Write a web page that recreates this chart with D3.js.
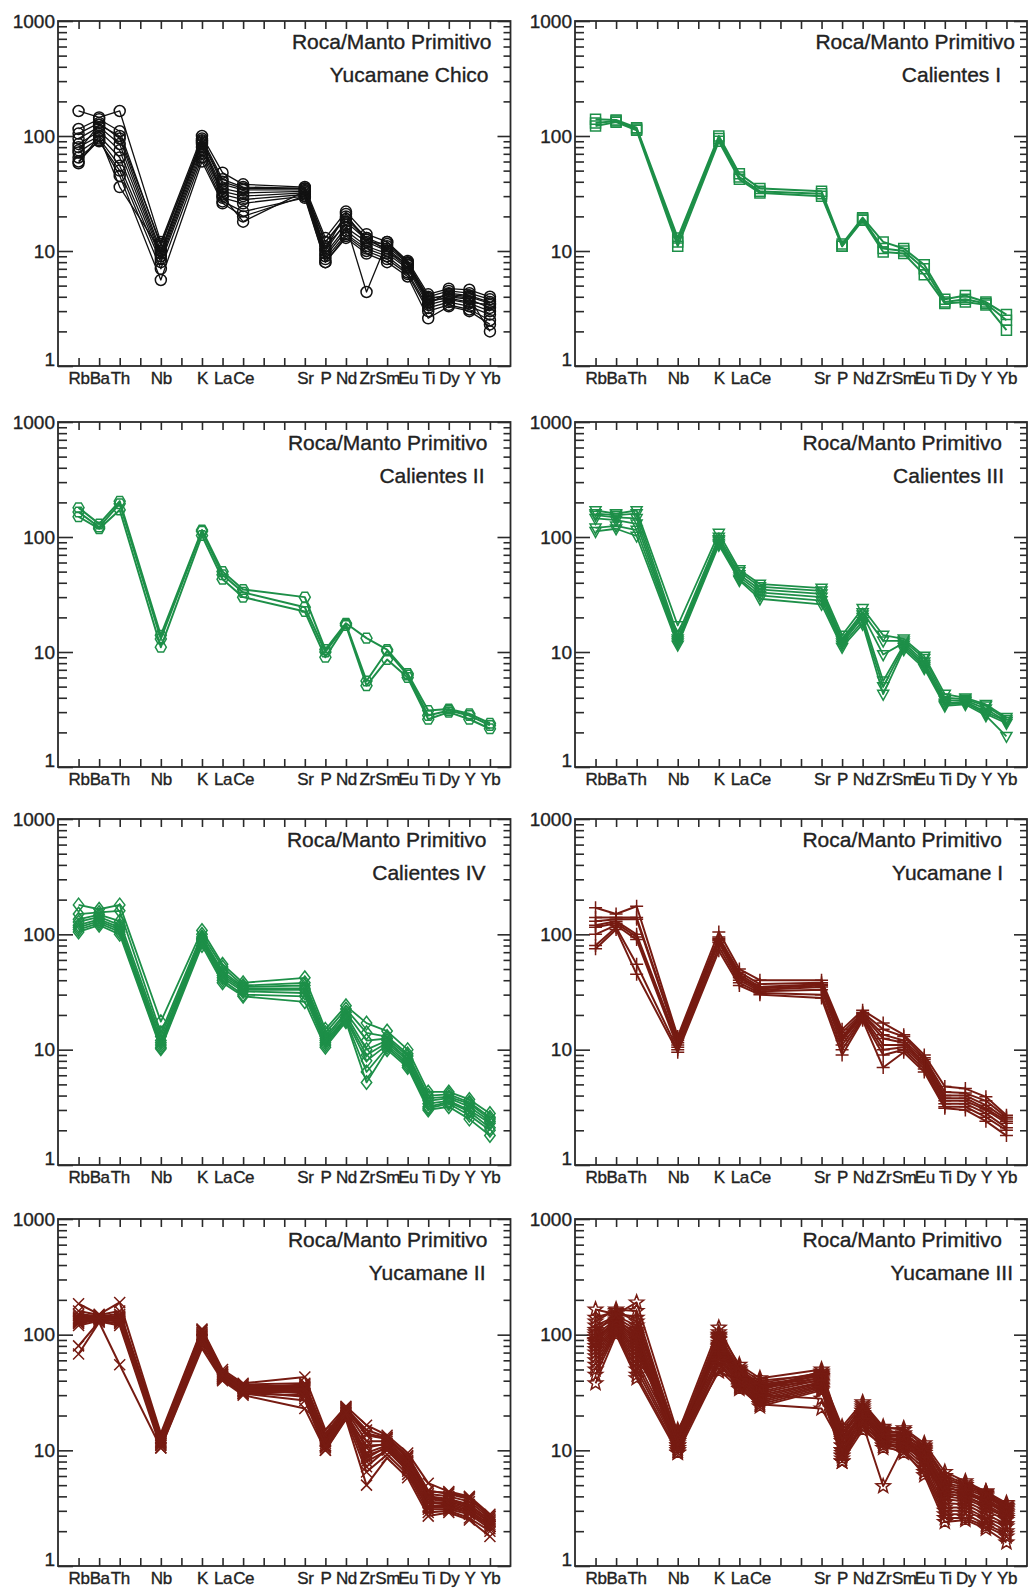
<!DOCTYPE html>
<html>
<head>
<meta charset="utf-8">
<script src="https://cdn.jsdelivr.net/npm/d3@7"></script>
<style>
  body { margin: 0; background: #fff; }
  svg { display: block; font-family: "Liberation Sans", Arial, Helvetica, sans-serif; }
  .frame { fill: none; stroke: #2a2a2a; stroke-width: 1.8; }
  .tick line { stroke: #2a2a2a; stroke-width: 1.6; }
  .domain { display: none; }
  .tick text { fill: #222; stroke: #222; stroke-width: 0.35; }
  .xlab .tick text { letter-spacing: -0.4px; }
  .title { fill: #222; stroke: #222; stroke-width: 0.35; font-size: 21px; text-anchor: end; }
</style>
</head>
<body>
<svg id="chart" width="1030" height="1590"></svg>
<script>
// element order and the slot each one takes on the 21-slot x axis
const elements = ["Rb", "Ba", "Th", "Nb", "K", "La", "Ce", "Sr", "P", "Nd", "Zr", "Sm", "Eu", "Ti", "Dy", "Y", "Yb"];
const elementSlots = [0, 1, 2, 4, 6, 7, 8, 11, 12, 13, 14, 15, 16, 17, 18, 19, 20];
const yTickLabels = [1, 10, 100, 1000];
const yLabel = "Roca/Manto Primitivo";

// rock / primitive mantle, one row per sample, columns follow `elements`
const yucamaneChico = [
  [165, 145, 165, 12, 100, 48, 38, 36, 13, 22, 14, 12, 8.2, 4.2, 4.7, 4.6, 4.0],
  [115, 140, 110, 11, 95, 42, 36, 35, 12, 20, 13, 11, 7.8, 4.0, 4.5, 4.3, 3.8],
  [105, 130, 95, 10, 90, 38, 34, 34, 10, 18, 12.5, 10.5, 7.5, 3.8, 4.2, 4.0, 3.5],
  [95, 120, 85, 9.5, 85, 35, 32, 33, 9.5, 16, 12, 10, 7.2, 3.6, 4.0, 3.8, 3.2],
  [85, 110, 75, 9, 80, 33, 30, 32, 9, 15, 11, 9.5, 7.0, 3.4, 3.8, 3.5, 3.0],
  [80, 100, 65, 8.5, 75, 31, 28, 31, 8.5, 14, 10.5, 9, 6.5, 3.2, 3.6, 3.3, 2.8],
  [72, 95, 55, 8, 70, 29, 26, 30, 8, 13.5, 10, 8.5, 6.3, 3.0, 3.4, 3.1, 2.5],
  [65, 90, 50, 7, 65, 27, 22, 29, 8, 13, 9.5, 8, 6.0, 2.6, 3.3, 3.0, 2.3],
  [60, 92, 45, 5.6, 60, 26, 20, 30, 11, 17, 4.4, 12, 8, 3.9, 4.1, 3.9, 2.0],
  [58, 100, 36, 10, 88, 30, 18, 33, 12, 19, 13, 10, 7.6, 3.7, 3.9, 3.6, 3.4],
  [75, 125, 100, 11.5, 92, 40, 35, 35, 10.5, 21, 12, 11.5, 7.9, 3.5, 4.3, 4.1, 3.6]
];
const calientesI = [
  [140, 138, 118, 13, 100, 47, 35, 33, 11.5, 19.5, 12, 10.5, 7.6, 3.8, 4.1, 3.6, 2.8],
  [130, 135, 115, 12, 95, 44, 33, 31.5, 11, 19, 10.5, 10, 7, 3.6, 3.8, 3.5, 2.5],
  [122, 132, 112, 11, 90, 42, 32, 30, 11, 18.5, 9.8, 9.5, 6.2, 3.5, 3.6, 3.4, 2.05]
];
const calientesII = [
  [180, 130, 205, 14, 115, 50, 35, 30, 10.5, 17.8, 13.2, 10.5, 6.5, 3.1, 3.2, 2.9, 2.4],
  [165, 122, 195, 13, 112, 47, 33, 24.5, 10, 17.5, 5.6, 10.2, 6.3, 2.8, 3.1, 2.8, 2.3],
  [150, 118, 172, 11, 103, 43, 30, 22.5, 9, 17, 5.1, 8.6, 6.0, 2.6, 3.0, 2.6, 2.15]
];
const calientesIII = [
  [170, 160, 170, 17, 108, 52, 39, 36, 14, 24, 14, 13, 9.2, 4.3, 4.0, 3.5, 2.7],
  [160, 155, 160, 14, 100, 50, 37, 34, 13, 22, 12.5, 12.5, 8.8, 4.0, 3.9, 3.4, 2.6],
  [155, 148, 145, 13, 95, 47, 35, 32, 12.5, 21, 9.5, 12, 8.2, 3.8, 3.8, 3.2, 2.5],
  [145, 140, 130, 12.5, 92, 45, 33, 30, 12, 20, 5.6, 11.5, 7.8, 3.6, 3.7, 3.0, 2.5],
  [120, 125, 115, 12, 88, 43, 31, 28, 11.5, 18.5, 5, 11, 7.5, 3.5, 3.6, 2.9, 2.4],
  [112, 118, 102, 11.5, 85, 42, 29, 26, 11, 17.5, 4.3, 10.5, 7.2, 3.4, 3.5, 2.8, 1.85]
];
const calientesIV = [
  [180, 165, 180, 17.5, 108, 55, 38, 42, 15, 24, 17, 14.5, 10, 4.3, 4.3, 3.7, 2.8],
  [150, 155, 160, 14, 100, 52, 36, 38, 14, 22.5, 14, 13, 9.2, 4.0, 4.1, 3.5, 2.6],
  [135, 148, 130, 13, 95, 48, 35, 36, 13, 21, 12, 12.5, 8.8, 3.8, 3.9, 3.4, 2.5],
  [128, 142, 120, 12, 92, 46, 34, 34, 12.5, 20, 10, 12, 8.3, 3.6, 3.8, 3.2, 2.4],
  [120, 135, 115, 11.5, 90, 44, 33, 33, 12, 19, 9, 11.5, 8, 3.4, 3.6, 3.0, 2.3],
  [115, 130, 110, 11, 88, 42, 32, 31, 11.5, 18.5, 8, 11, 7.6, 3.2, 3.5, 2.9, 2.1],
  [110, 125, 105, 10.5, 85, 40, 30, 29, 11, 18, 6.4, 10.5, 7.3, 3.1, 3.4, 2.7, 2.0],
  [105, 120, 100, 10.2, 80, 38, 29, 26, 10.5, 17.5, 5.2, 10, 7, 3.0, 3.2, 2.5, 1.8]
];
const yucamaneI = [
  [170, 150, 175, 13, 105, 50, 40, 40, 15, 22, 17, 13.5, 9, 4.8, 4.6, 3.9, 2.7],
  [140, 140, 140, 12.5, 95, 47, 37, 38, 14, 21, 15, 13, 8.5, 4.3, 4.2, 3.6, 2.6],
  [130, 135, 135, 12, 92, 45, 35, 37, 13, 20.5, 13.5, 12, 8.2, 4.0, 4.0, 3.3, 2.5],
  [120, 130, 100, 11.5, 90, 43, 34, 36, 12.5, 20, 12.5, 11.5, 7.8, 3.8, 3.8, 3.1, 2.4],
  [115, 125, 95, 11, 88, 42, 33, 35, 12, 19.5, 11, 11, 7.5, 3.6, 3.6, 3.0, 2.3],
  [100, 120, 90, 10.5, 85, 40, 32, 33, 11, 19, 10, 10.5, 7.2, 3.4, 3.4, 2.8, 2.1],
  [80, 115, 55, 10, 78, 38, 31, 30, 10, 18.5, 9, 10, 6.8, 3.2, 3.2, 2.6, 2.0],
  [75, 110, 45, 9.5, 72, 36, 30, 28, 9, 18, 7, 9.5, 6.4, 3.1, 3.0, 2.4, 1.8]
];
const yucamaneII = [
  [185, 150, 190, 14, 112, 50, 38, 43, 15, 24, 16.5, 13.5, 9.5, 5.2, 4.4, 4.0, 2.8],
  [160, 148, 160, 13.5, 108, 48, 37, 38, 14, 23, 15, 13, 9, 4.5, 4.2, 3.8, 2.7],
  [150, 145, 150, 13, 105, 46, 36, 36, 13, 22.5, 13.5, 12.5, 8.6, 4.2, 4.0, 3.6, 2.6],
  [140, 142, 145, 12.5, 100, 45, 35, 35, 12.5, 22, 12, 12, 8.2, 4.0, 3.8, 3.4, 2.5],
  [135, 140, 140, 12, 98, 44, 34, 34, 12, 21, 10.5, 11.5, 7.8, 3.8, 3.6, 3.2, 2.4],
  [130, 138, 135, 11.8, 95, 43, 33, 33, 11.5, 20.5, 9.5, 11, 7.5, 3.5, 3.4, 3.0, 2.3],
  [125, 135, 130, 11.5, 92, 42, 32, 32, 11, 20, 9, 10.5, 7, 3.3, 3.3, 2.9, 2.2],
  [120, 132, 125, 11, 88, 42, 31, 30, 10.5, 19.5, 8, 10, 6.6, 3.1, 3.1, 2.8, 2.1],
  [80, 130, 120, 10.5, 82, 41, 31, 27, 10, 19, 6.5, 9.2, 6.2, 2.9, 3.0, 2.6, 2.0],
  [68, 128, 55, 10.5, 76, 40, 30, 23, 10, 18.5, 5, 8.6, 5.8, 2.7, 2.9, 2.5, 1.8],
  [145, 146, 138, 12.8, 110, 47, 35, 37, 13.5, 23.5, 14, 12.8, 8.8, 4.4, 4.3, 3.9, 2.7],
  [128, 137, 142, 12.2, 102, 44, 34, 31, 11, 21.5, 8.5, 10.8, 7.2, 3.6, 3.5, 3.1, 2.4],
  [138, 141, 128, 11.2, 96, 43, 33, 34, 12, 20, 11, 11.2, 8, 3.9, 3.7, 3.3, 2.5],
  [132, 139, 133, 11.6, 90, 45, 32, 29, 10.8, 21, 7.2, 10.2, 6.8, 3.2, 3.2, 2.9, 2.2]
];
const yucamaneIII = [
  [165, 150, 190, 14, 115, 52, 40, 45, 14, 24, 15, 14, 10.5, 5.5, 5.0, 4.2, 3.3],
  [140, 160, 130, 13, 100, 50, 38, 47, 12, 22, 14, 13, 10, 5.0, 4.6, 4.0, 3.1],
  [120, 145, 120, 12.5, 95, 48, 37, 44, 16, 26, 16, 15, 11, 6.0, 5.2, 4.4, 3.4],
  [110, 140, 110, 12, 92, 47, 36, 42, 10, 20, 13, 12, 9.5, 4.5, 4.2, 3.6, 2.9],
  [100, 135, 100, 11.5, 90, 46, 35, 40, 9, 19, 12.5, 12.5, 9, 4.2, 4.0, 3.4, 2.7],
  [95, 130, 95, 11, 85, 45, 34, 48, 8, 18, 12, 11.5, 8.5, 4.0, 3.8, 3.2, 2.6],
  [90, 128, 90, 10.5, 82, 44, 33, 46, 8, 17, 4.9, 11, 8, 3.8, 3.6, 3.0, 2.5],
  [85, 125, 85, 10, 80, 43, 32, 43, 11, 21, 13.5, 13, 9.8, 5.2, 4.8, 4.1, 3.2],
  [80, 122, 80, 9.6, 78, 42, 31, 41, 13, 23, 14.5, 14, 10.2, 4.8, 4.4, 3.8, 3.0],
  [75, 120, 75, 13.5, 75, 41, 30, 39, 15, 25, 15.5, 15.5, 11.5, 6.5, 5.4, 4.4, 3.5],
  [70, 118, 70, 14.5, 72, 40, 29, 38, 12, 20, 12.5, 12, 9, 3.5, 3.4, 2.8, 2.3],
  [65, 115, 65, 15, 68, 39, 28, 37, 10, 18, 11.5, 11, 8.2, 3.2, 3.2, 2.6, 2.2],
  [60, 112, 60, 12, 65, 38, 27, 36, 9, 17, 11, 10.5, 7.5, 3.0, 3.0, 2.5, 2.0],
  [55, 110, 55, 11, 62, 37, 26, 35, 8.5, 16, 12, 10, 7, 2.8, 2.8, 2.3, 1.9],
  [50, 108, 50, 10.5, 58, 36, 25, 34, 8, 15, 11, 9.5, 6.5, 2.6, 2.6, 2.2, 1.8],
  [45, 105, 45, 10, 55, 35, 24, 33, 9.5, 16, 10.5, 10, 6.1, 2.4, 2.5, 2.1, 1.6],
  [38, 100, 42, 9.5, 50, 34, 25, 23, 11, 19, 13, 12, 8.8, 4.4, 4.2, 3.6, 2.8],
  [105, 155, 140, 13, 105, 55, 42, 50, 14, 22, 14, 13.5, 10.8, 5.8, 5.0, 4.3, 3.2],
  [130, 165, 160, 12, 98, 50, 36, 44, 12.5, 21, 13, 12.5, 9.5, 4.8, 4.3, 3.7, 2.9],
  [88, 132, 105, 11, 48, 40, 30, 28, 10, 18, 12, 11.5, 8.5, 4.2, 4.0, 3.3, 2.6]
];

// open marker shapes, `size` is used as a radius
const markers = {
  circle: { draw(c, r) { c.moveTo(r, 0); c.arc(0, 0, r, 0, 2 * Math.PI); } },
  square: { draw(c, r) { c.rect(-r, -r, 2 * r, 2 * r); } },
  hexagon: { draw(c, r) {
    for (let k = 0; k < 6; k++) {
      const a = k * Math.PI / 3;
      k ? c.lineTo(r * Math.cos(a), r * Math.sin(a)) : c.moveTo(r, 0);
    }
    c.closePath();
  } },
  triangleDown: { draw(c, r) { c.moveTo(-r, -0.7 * r); c.lineTo(r, -0.7 * r); c.lineTo(0, 1.1 * r); c.closePath(); } },
  diamond: { draw(c, r) { c.moveTo(0, -1.3 * r); c.lineTo(r, 0); c.lineTo(0, 1.3 * r); c.lineTo(-r, 0); c.closePath(); } },
  plus: { draw(c, r) { c.moveTo(-r, 0); c.lineTo(r, 0); c.moveTo(0, -r); c.lineTo(0, r); } },
  cross: { draw(c, r) { c.moveTo(-r, -r); c.lineTo(r, r); c.moveTo(-r, r); c.lineTo(r, -r); } },
  star: { draw(c, r) {
    for (let k = 0; k < 10; k++) {
      const a = -Math.PI / 2 + k * Math.PI / 5, rr = k % 2 ? r * 0.42 : r;
      k ? c.lineTo(rr * Math.cos(a), rr * Math.sin(a)) : c.moveTo(rr * Math.cos(a), rr * Math.sin(a));
    }
    c.closePath();
  } }
};

const GREEN = "#1d8f48", RED = "#761b12", BLACK = "#111";
const cols = [[58, 510.5], [575, 1027]];
const rows = [[21, 366], [422, 767], [819, 1165], [1219, 1566]];

const panels = [
  { name: "Yucamane Chico", data: yucamaneChico, marker: "circle", r: 5.5, color: BLACK, lw: 1.3, col: 0, row: 0, inset: [19, 22] },
  { name: "Calientes I", data: calientesI, marker: "square", r: 5, color: GREEN, lw: 2, col: 1, row: 0, inset: [12, 26] },
  { name: "Calientes II", data: calientesII, marker: "hexagon", r: 5.5, color: GREEN, lw: 2, col: 0, row: 1, inset: [23, 26] },
  { name: "Calientes III", data: calientesIII, marker: "triangleDown", r: 5.5, color: GREEN, lw: 1.8, col: 1, row: 1, inset: [25, 23] },
  { name: "Calientes IV", data: calientesIV, marker: "diamond", r: 5.2, color: GREEN, lw: 1.8, col: 0, row: 2, inset: [24, 25] },
  { name: "Yucamane I", data: yucamaneI, marker: "plus", r: 6.5, color: RED, lw: 2, col: 1, row: 2, inset: [25, 24] },
  { name: "Yucamane II", data: yucamaneII, marker: "cross", r: 5.5, color: RED, lw: 2, col: 0, row: 3, inset: [23, 25] },
  { name: "Yucamane III", data: yucamaneIII, marker: "star", r: 7.5, color: RED, lw: 1.9, col: 1, row: 3, inset: [25, 14] }
];

const svg = d3.select("#chart");
const slots = d3.range(21);
const labelAt = new Map(elementSlots.map((s, i) => [s, elements[i]]));
const minorTicks = [];
[1, 10, 100].forEach(dec => { for (let m = 2; m <= 9; m++) minorTicks.push(m * dec); });

panels.forEach(p => {
  const [x0, x1] = cols[p.col], [y0, y1] = rows[p.row];
  const x = d3.scaleLinear().domain([-1, 21]).range([x0, x1]);
  const y = d3.scaleLog().domain([1, 1000]).range([y1, y0]);
  const g = svg.append("g");

  // ticks point inwards on all four sides
  g.append("g").attr("class", "xlab").attr("transform", `translate(0,${y1})`)
    .call(d3.axisBottom(x).tickValues(slots).tickSize(-8).tickPadding(6).tickFormat(s => labelAt.get(s) || ""))
    .attr("font-size", 17).attr("font-family", null);
  g.append("g").attr("transform", `translate(0,${y0})`)
    .call(d3.axisTop(x).tickValues(slots).tickSize(-8).tickFormat(""));
  g.append("g").attr("transform", `translate(${x0},0)`)
    .call(d3.axisLeft(y).tickValues(minorTicks).tickSize(-9).tickFormat(""));
  const yl = g.append("g").attr("transform", `translate(${x0},0)`)
    .call(d3.axisLeft(y).tickValues(yTickLabels).tickSize(-15).tickPadding(3).tickFormat(d3.format("d")))
    .attr("font-size", 19).attr("font-family", null);
  yl.selectAll(".tick text").filter(d => d === 1).attr("transform", "translate(0,-7)");
  g.append("g").attr("transform", `translate(${x1},0)`)
    .call(d3.axisRight(y).tickValues(minorTicks).tickSize(-7).tickFormat(""));
  g.append("g").attr("transform", `translate(${x1},0)`)
    .call(d3.axisRight(y).tickValues(yTickLabels).tickSize(-13).tickFormat(""));

  g.append("rect").attr("class", "frame")
    .attr("x", x0).attr("y", y0).attr("width", x1 - x0).attr("height", y1 - y0);

  g.append("text").attr("class", "title").attr("x", x1 - p.inset[0]).attr("y", y0 + 28).text(yLabel);
  g.append("text").attr("class", "title").attr("x", x1 - p.inset[1]).attr("y", y0 + 61).text(p.name);

  const line = d3.line().x((d, i) => x(elementSlots[i])).y(d => y(d));
  const sym = d3.symbol().type(markers[p.marker]).size(p.r);

  const s = g.selectAll(".sample").data(p.data).join("g").attr("class", "sample");
  s.append("path").attr("d", line)
    .attr("fill", "none").attr("stroke", p.color).attr("stroke-width", p.lw).attr("stroke-linejoin", "round");
  s.selectAll(".m").data(d => d).join("path").attr("class", "m")
    .attr("transform", (d, i) => `translate(${x(elementSlots[i])},${y(d)})`)
    .attr("d", sym)
    .attr("fill", "none").attr("stroke", p.color).attr("stroke-width", 1.5);
});
</script>
</body>
</html>
